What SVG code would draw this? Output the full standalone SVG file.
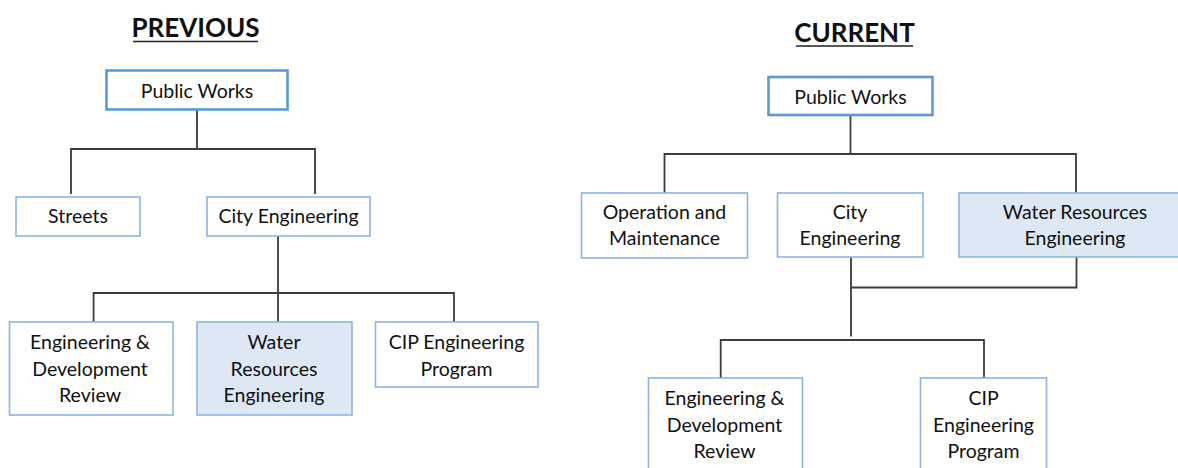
<svg xmlns="http://www.w3.org/2000/svg" width="1178" height="468" viewBox="0 0 1178 468">
<style>
.t{font-family:Lato,"Noto Sans","Liberation Sans",sans-serif;font-size:19.5px;fill:#111;text-anchor:middle}
.title{font-family:Lato,"Noto Sans","Liberation Sans",sans-serif;font-size:26px;font-weight:bold;fill:#111;text-anchor:middle}
.ul{stroke:#222;stroke-width:1.6}
.box{fill:#fff;stroke:#8db4e2;stroke-width:1.6}
.hl{fill:#dde8f4;stroke:#8db4e2;stroke-width:1.6}
.top{fill:#fff;stroke:#5b9bd5;stroke-width:2.6}
.c{fill:none;stroke:#3c3c3c;stroke-width:1.8}
</style>
<rect width="1178" height="468" fill="#fff"/>
<g id="titles">
<text class="title" x="195.5" y="37">PREVIOUS</text>
<line class="ul" x1="133" y1="41.5" x2="258" y2="41.5"/>
<text class="title" x="854.5" y="42">CURRENT</text>
<line class="ul" x1="796" y1="46" x2="913" y2="46"/>
</g>
<g id="connectors">
<path class="c" d="M197 110 V149 M71 194 V149 H315 V194"/>
<path class="c" d="M278 236 V322 M93.6 322 V293 H454 V322"/>
<path class="c" d="M850.5 115 V154 M664.5 193 V154 H1076 V193"/>
<path class="c" d="M851 257 V336.5 M851 287.5 H1076.5 V257"/>
<path class="c" d="M720.7 378 V340 H984 V378"/>
</g>
<g id="prev-public-works">
<rect class="top" x="106.5" y="70.5" width="181" height="39"/>
<text class="t" x="197" y="98">Public Works</text>
</g>
<g id="prev-streets">
<rect class="box" x="16" y="197" width="124" height="39"/>
<text class="t" x="78" y="223">Streets</text>
</g>
<g id="prev-city-engineering">
<rect class="box" x="207" y="197" width="163" height="39"/>
<text class="t" x="288.5" y="223">City Engineering</text>
</g>
<g id="prev-eng-dev-review">
<rect class="box" x="9.5" y="322" width="163.5" height="93"/>
<text class="t" x="90" y="349">Engineering &amp;</text>
<text class="t" x="90" y="375.5">Development</text>
<text class="t" x="90" y="402">Review</text>
</g>
<g id="prev-water-resources">
<rect class="hl" x="197" y="322" width="155" height="93"/>
<text class="t" x="274" y="349">Water</text>
<text class="t" x="274" y="375.5">Resources</text>
<text class="t" x="274" y="402">Engineering</text>
</g>
<g id="prev-cip">
<rect class="box" x="375.5" y="322" width="162.5" height="65"/>
<text class="t" x="456.5" y="349">CIP Engineering</text>
<text class="t" x="456.5" y="375.5">Program</text>
</g>
<g id="cur-public-works">
<rect class="top" x="768.5" y="77" width="164" height="38"/>
<text class="t" x="850.5" y="104">Public Works</text>
</g>
<g id="cur-operation-maintenance">
<rect class="box" x="581.5" y="193" width="166" height="65"/>
<text class="t" x="664.5" y="218.5">Operation and</text>
<text class="t" x="664.5" y="245">Maintenance</text>
</g>
<g id="cur-city-engineering">
<rect class="box" x="777.5" y="193" width="145.5" height="64"/>
<text class="t" x="850" y="218.5">City</text>
<text class="t" x="850" y="245">Engineering</text>
</g>
<g id="cur-water-resources">
<rect class="hl" x="959" y="193" width="240" height="64"/>
<text class="t" x="1075" y="218.5">Water Resources</text>
<text class="t" x="1075" y="245">Engineering</text>
</g>
<g id="cur-eng-dev-review">
<rect class="box" x="648.5" y="378" width="154" height="100"/>
<text class="t" x="724.5" y="405">Engineering &amp;</text>
<text class="t" x="724.5" y="431.5">Development</text>
<text class="t" x="724.5" y="458">Review</text>
</g>
<g id="cur-cip">
<rect class="box" x="920.5" y="378" width="126" height="100"/>
<text class="t" x="983.5" y="405">CIP</text>
<text class="t" x="983.5" y="431.5">Engineering</text>
<text class="t" x="983.5" y="458">Program</text>
</g>
</svg>
